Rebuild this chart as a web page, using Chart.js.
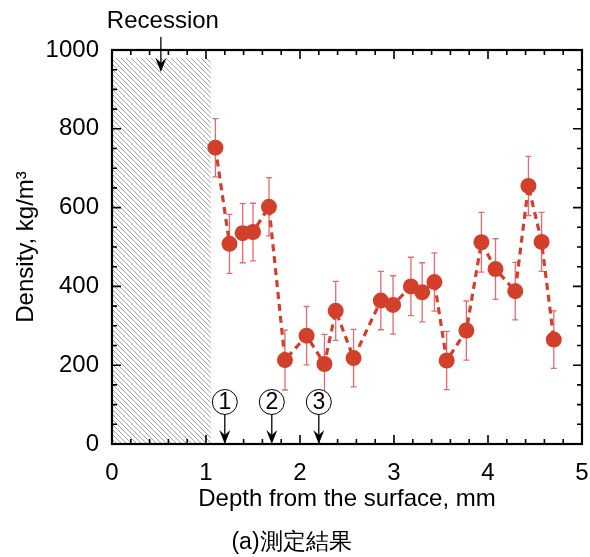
<!DOCTYPE html>
<html>
<head>
<meta charset="utf-8">
<script src="https://cdn.jsdelivr.net/npm/chart.js@4.4.0/dist/chart.umd.min.js"></script>
<style>
  html, body { margin: 0; padding: 0; background: #fff; }
  #wrap { width: 590px; height: 557px; position: relative; }
</style>
</head>
<body>
<div id="wrap"><canvas id="densityChart"></canvas></div>
<script>
// measured points (depth in mm, density in kg/m3, error half-width)
const depths = [1.10, 1.25, 1.39, 1.50, 1.67, 1.84, 2.07, 2.26, 2.38, 2.57, 2.86, 2.99,
                3.18, 3.30, 3.43, 3.56, 3.77, 3.93, 4.08, 4.29, 4.43, 4.57, 4.70];
const densities = [752, 508, 535, 538, 602, 213, 275, 203, 338, 218, 364, 353,
                   400, 385, 411, 212, 288, 512, 444, 388, 655, 513, 265];
const errors = [74, 75, 75, 73, 74, 76, 74, 75, 75, 73, 74, 74,
                74, 75, 74, 74, 75, 76, 77, 73, 75, 75, 73];

// axis ranges / ticks
const xMajorTicks = [0, 1, 2, 3, 4, 5];
const yMajorTicks = [0, 200, 400, 600, 800, 1000];

// recession zone and marked depths
const recessionDepth = 1.05;
const recessionTop = 980;
const recessionArrowAt = 0.52;
const markerDepths = [1.2, 1.7, 2.2];
const markerLabels = ['1', '2', '3'];

const FONT = "'Liberation Sans', Arial, sans-serif";
const RED = '#d2402b';

const isMajor = (v, list) => list.some(m => Math.abs(m - v) < 1e-6);

const hatchZone = {
    id: 'hatchZone',
    beforeDatasetsDraw(chart) {
        const { ctx, scales: { x, y } } = chart;
        const l = x.getPixelForValue(0), r = x.getPixelForValue(recessionDepth);
        const t = y.getPixelForValue(recessionTop), b = y.getPixelForValue(0);
        ctx.save();
        ctx.beginPath();
        ctx.rect(l, t, r - l, b - t);
        ctx.clip();
        ctx.strokeStyle = '#8c8c8c';
        ctx.lineWidth = 0.8;
        ctx.beginPath();
        for (let s = l - (b - t); s < r; s += 5) {
            ctx.moveTo(s, t);
            ctx.lineTo(s + (b - t), b);
        }
        ctx.stroke();
        ctx.restore();
    }
};

const errorBars = {
    id: 'errorBars',
    beforeDatasetsDraw(chart) {
        const { ctx, scales: { x, y } } = chart;
        ctx.save();
        ctx.strokeStyle = 'rgba(222, 70, 75, 0.8)';
        ctx.lineWidth = 1.3;
        depths.forEach((d, i) => {
            const px = x.getPixelForValue(d);
            const top = y.getPixelForValue(densities[i] + errors[i]);
            const bot = y.getPixelForValue(densities[i] - errors[i]);
            ctx.beginPath();
            ctx.moveTo(px, top); ctx.lineTo(px, bot);
            ctx.moveTo(px - 3, top); ctx.lineTo(px + 3, top);
            ctx.moveTo(px - 3, bot); ctx.lineTo(px + 3, bot);
            ctx.stroke();
        });
        ctx.restore();
    }
};

function drawArrow(ctx, px, y1, y2) {
    ctx.beginPath();
    ctx.moveTo(px, y1);
    ctx.lineTo(px, y2 - 8);
    ctx.stroke();
    ctx.beginPath();
    ctx.moveTo(px, y2);
    ctx.lineTo(px - 5.5, y2 - 14);
    ctx.lineTo(px, y2 - 9);
    ctx.lineTo(px + 5.5, y2 - 14);
    ctx.closePath();
    ctx.fill();
}

const frameAndNotes = {
    id: 'frameAndNotes',
    afterDraw(chart) {
        const { ctx, chartArea: { left, right, top, bottom }, scales: { x, y } } = chart;
        ctx.save();
        ctx.strokeStyle = '#000';
        ctx.fillStyle = '#000';

        // inward ticks on all four sides
        ctx.lineWidth = 1.6;
        ctx.beginPath();
        x.ticks.forEach(t => {
            const p = x.getPixelForValue(t.value);
            const len = isMajor(t.value, xMajorTicks) ? 9 : 5;
            ctx.moveTo(p, bottom); ctx.lineTo(p, bottom - len);
            ctx.moveTo(p, top); ctx.lineTo(p, top + len);
        });
        y.ticks.forEach(t => {
            const p = y.getPixelForValue(t.value);
            const len = isMajor(t.value, yMajorTicks) ? 9 : 5;
            ctx.moveTo(left, p); ctx.lineTo(left + len, p);
            ctx.moveTo(right, p); ctx.lineTo(right - len, p);
        });
        ctx.stroke();

        ctx.lineWidth = 2.2;
        ctx.strokeRect(left, top, right - left, bottom - top);

        // recession label
        const rx = x.getPixelForValue(recessionArrowAt);
        ctx.font = '24px ' + FONT;
        ctx.textAlign = 'center';
        ctx.textBaseline = 'middle';
        ctx.fillText('Recession', rx + 2, top - 29);
        ctx.lineWidth = 1.3;
        drawArrow(ctx, rx, top - 13, top + 22);

        // circled position markers
        markerDepths.forEach((d, i) => {
            const px = x.getPixelForValue(d);
            const cy = bottom - 42;
            ctx.fillStyle = '#fff';
            ctx.beginPath();
            ctx.arc(px, cy, 12.5, 0, Math.PI * 2);
            ctx.fill();
            ctx.lineWidth = 1;
            ctx.stroke();
            ctx.fillStyle = '#000';
            ctx.font = '23px ' + FONT;
            ctx.fillText(markerLabels[i], px, cy + 1);
            ctx.lineWidth = 1.3;
            drawArrow(ctx, px, cy + 12.5, bottom);
        });
        ctx.restore();
    }
};

new Chart(document.getElementById('densityChart'), {
    type: 'line',
    data: {
        datasets: [{
            data: depths.map((d, i) => ({ x: d, y: densities[i] })),
            borderColor: RED,
            borderWidth: 3.2,
            borderDash: [7, 5],
            pointRadius: 8,
            pointBackgroundColor: RED,
            pointBorderWidth: 0,
            tension: 0
        }]
    },
    options: {
        responsive: true,
        maintainAspectRatio: false,
        animation: false,
        layout: { padding: { left: 0, right: 7, top: 50, bottom: 0 } },
        plugins: {
            legend: { display: false },
            tooltip: { enabled: false },
            title: {
                display: true,
                position: 'bottom',
                text: '(a)測定結果',
                color: '#000',
                font: { family: FONT, size: 23, weight: 'normal' },
                padding: { top: 2, bottom: 1 }
            }
        },
        scales: {
            x: {
                type: 'linear',
                min: 0,
                max: 5,
                grid: { display: false, drawTicks: false },
                border: { display: false },
                afterFit: s => { s.height = 82.4; s.paddingLeft = 0; s.paddingRight = 0; },
                ticks: {
                    stepSize: 0.2,
                    autoSkip: false,
                    maxRotation: 0,
                    padding: 15,
                    color: '#000',
                    font: { family: FONT, size: 24 },
                    callback: v => isMajor(v, xMajorTicks) ? String(Math.round(v)) : ''
                },
                title: {
                    display: true,
                    text: 'Depth from the surface, mm',
                    color: '#000',
                    font: { family: FONT, size: 24 },
                    padding: { top: 0, bottom: 13 }
                }
            },
            y: {
                min: 0,
                max: 1000,
                grid: { display: false, drawTicks: false },
                border: { display: false },
                afterFit: s => { s.width = 112; s.paddingTop = 0; s.paddingBottom = 0; },
                ticks: {
                    stepSize: 50,
                    autoSkip: false,
                    padding: 13,
                    color: '#000',
                    font: { family: FONT, size: 24 },
                    callback: v => isMajor(v, yMajorTicks) ? String(v) : ''
                },
                title: {
                    display: true,
                    text: 'Density, kg/m³',
                    color: '#000',
                    font: { family: FONT, size: 24 },
                    padding: { top: 12, bottom: 0 }
                }
            }
        }
    },
    plugins: [hatchZone, errorBars, frameAndNotes]
});
</script>
</body>
</html>
